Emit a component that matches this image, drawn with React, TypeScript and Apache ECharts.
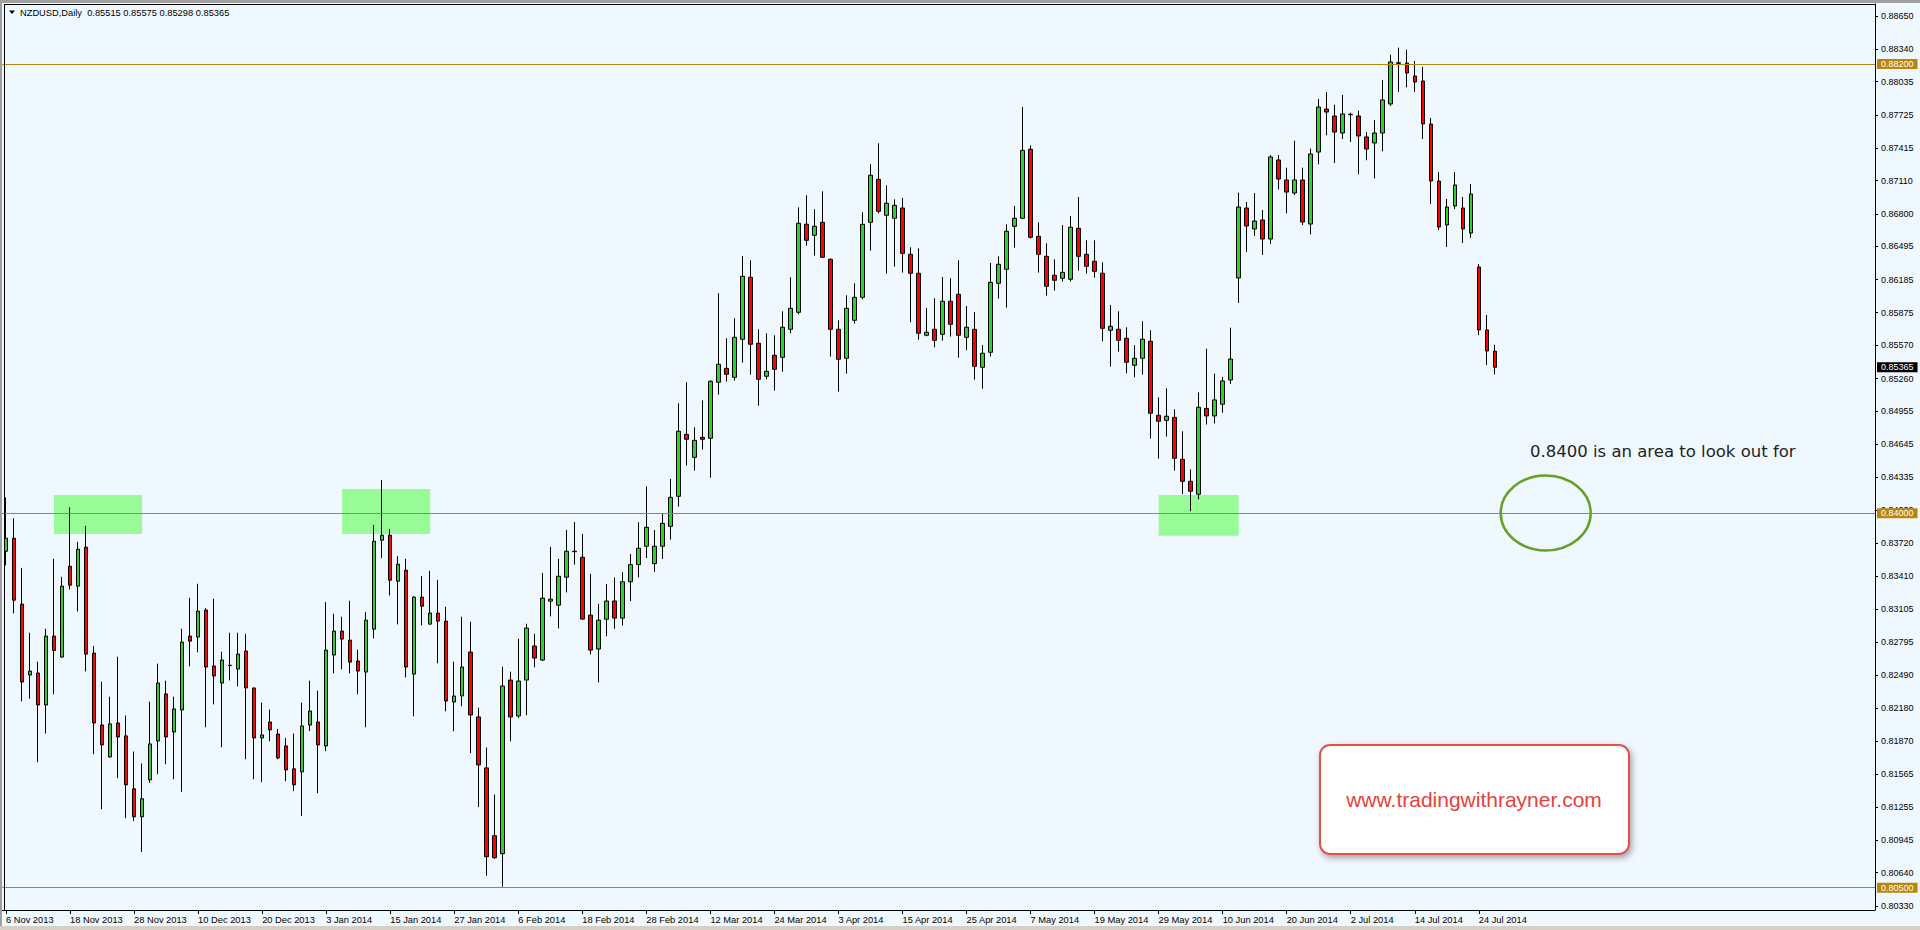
import React, { useEffect, useRef } from 'react';
import * as echarts from 'echarts';

const SYMBOL = 'NZDUSD,Daily';
const TICK_LABELS = [
  '6 Nov 2013', '18 Nov 2013', '28 Nov 2013', '10 Dec 2013', '20 Dec 2013', '3 Jan 2014',
  '15 Jan 2014', '27 Jan 2014', '6 Feb 2014', '18 Feb 2014', '28 Feb 2014', '12 Mar 2014',
  '24 Mar 2014', '3 Apr 2014', '15 Apr 2014', '25 Apr 2014', '7 May 2014', '19 May 2014',
  '29 May 2014', '10 Jun 2014', '20 Jun 2014', '2 Jul 2014', '14 Jul 2014', '24 Jul 2014',
];
const LABEL_STEP = 8;
const SLOT_COUNT = 234;

const OPEN = [
  0.83645, 0.83767, 0.83151, 0.82488, 0.82507, 0.82208, 0.82852, 0.82656, 0.83505, 0.83319,
  0.83683, 0.82693, 0.82021, 0.81723, 0.82040, 0.81919, 0.81424, 0.81163, 0.81508, 0.81872,
  0.82311, 0.81956, 0.82161, 0.82852, 0.82843, 0.83095, 0.82572, 0.82413, 0.82580, 0.82544,
  0.82712, 0.82367, 0.81900, 0.82049, 0.81937, 0.81825, 0.81611, 0.81583, 0.82021, 0.82049,
  0.81825, 0.82675, 0.82899, 0.82815, 0.82619, 0.82516, 0.82917, 0.83748, 0.83795, 0.83365,
  0.83468, 0.82497, 0.83216, 0.82964, 0.83067, 0.82992, 0.82236, 0.82292, 0.82703, 0.82096,
  0.81620, 0.80986, 0.80818, 0.82441, 0.82105, 0.82441, 0.82759, 0.82628, 0.83179, 0.83141,
  0.83403, 0.83640, 0.83589, 0.83048, 0.82731, 0.83010, 0.83180, 0.83020, 0.83360, 0.83520,
  0.83692, 0.83530, 0.83692, 0.83878, 0.84159, 0.84738, 0.84523, 0.84710, 0.84701, 0.85225,
  0.85355, 0.85271, 0.85627, 0.86206, 0.85589, 0.85281, 0.85477, 0.85458, 0.85720, 0.85879,
  0.86702, 0.86599, 0.86720, 0.86374, 0.85720, 0.85449, 0.85804, 0.86019, 0.86720, 0.87122,
  0.86786, 0.86758, 0.86854, 0.86421, 0.86244, 0.85664, 0.85720, 0.85673, 0.85982, 0.86047,
  0.85645, 0.85720, 0.85365, 0.85505, 0.86150, 0.86281, 0.86683, 0.86758, 0.87403, 0.86589,
  0.86402, 0.86225, 0.86197, 0.86188, 0.86664, 0.86421, 0.86356, 0.86244, 0.85711, 0.85720,
  0.85636, 0.85384, 0.85449, 0.85608, 0.84916, 0.84869, 0.84897, 0.84505, 0.84299, 0.84178,
  0.84980, 0.84910, 0.85020, 0.85246, 0.86200, 0.86854, 0.86658, 0.86742, 0.86564, 0.87303,
  0.87116, 0.86994, 0.87116, 0.86704, 0.87377, 0.87779, 0.87714, 0.87555, 0.87726, 0.87714,
  0.87518, 0.87462, 0.87555, 0.87826, 0.88212, 0.88209, 0.88088, 0.88041, 0.87639, 0.87106,
  0.86695, 0.86873, 0.86854, 0.86620, 0.86302, 0.85714, 0.85515,
];
const HIGH = [
  0.84149, 0.83953, 0.83490, 0.82883, 0.82613, 0.82921, 0.83574, 0.83406, 0.84056, 0.83733,
  0.83882, 0.82759, 0.82426, 0.82286, 0.82659, 0.82109, 0.81773, 0.81661, 0.82239, 0.82594,
  0.82435, 0.82286, 0.82921, 0.83210, 0.83341, 0.83113, 0.83201, 0.82706, 0.82883, 0.82883,
  0.82874, 0.82370, 0.82230, 0.82165, 0.81984, 0.81900, 0.81941, 0.82230, 0.82435, 0.82342,
  0.83169, 0.83061, 0.83033, 0.83182, 0.82725, 0.83076, 0.83891, 0.84311, 0.83854, 0.83599,
  0.83574, 0.83225, 0.83415, 0.83462, 0.83378, 0.83126, 0.82613, 0.83033, 0.82986, 0.82183,
  0.81810, 0.81371, 0.82566, 0.82519, 0.82827, 0.82967, 0.82874, 0.83443, 0.83686, 0.83574,
  0.83845, 0.83919, 0.83807, 0.83434, 0.83154, 0.83340, 0.83400, 0.83450, 0.83620, 0.83916,
  0.84252, 0.83844, 0.83994, 0.84321, 0.85028, 0.85225, 0.84804, 0.85056, 0.85243, 0.86057,
  0.85636, 0.85823, 0.86406, 0.86365, 0.85720, 0.85683, 0.85664, 0.85888, 0.86206, 0.86860,
  0.86973, 0.86842, 0.87010, 0.86384, 0.85804, 0.86038, 0.86150, 0.86814, 0.87266, 0.87459,
  0.87066, 0.86935, 0.86948, 0.86487, 0.86477, 0.85920, 0.86010, 0.86209, 0.86197, 0.86365,
  0.85938, 0.85882, 0.85574, 0.86340, 0.86402, 0.86702, 0.86873, 0.87798, 0.87440, 0.86720,
  0.86524, 0.86374, 0.86695, 0.86780, 0.86957, 0.86552, 0.86552, 0.86346, 0.85948, 0.85888,
  0.85739, 0.85571, 0.85795, 0.85711, 0.85084, 0.85168, 0.84972, 0.84767, 0.84411, 0.85131,
  0.85539, 0.85305, 0.85274, 0.85735, 0.86997, 0.86910, 0.86994, 0.86835, 0.87349, 0.87349,
  0.87231, 0.87483, 0.87231, 0.87409, 0.87873, 0.87938, 0.87820, 0.87910, 0.87745, 0.87764,
  0.87564, 0.87677, 0.88050, 0.88287, 0.88353, 0.88334, 0.88228, 0.88172, 0.87695, 0.87190,
  0.86938, 0.87190, 0.86957, 0.87078, 0.86330, 0.85854, 0.85575,
];
const LOW = [
  0.83512, 0.83064, 0.82242, 0.82267, 0.81673, 0.81941, 0.82308, 0.82650, 0.83288, 0.83082,
  0.82522, 0.81748, 0.81234, 0.81715, 0.81524, 0.81150, 0.81122, 0.80833, 0.81480, 0.81561,
  0.81654, 0.81514, 0.81396, 0.82569, 0.82700, 0.82000, 0.82214, 0.81813, 0.82438, 0.82382,
  0.81701, 0.81514, 0.81486, 0.81869, 0.81701, 0.81496, 0.81402, 0.81169, 0.81965, 0.81384,
  0.81776, 0.82504, 0.82541, 0.82504, 0.82308, 0.82000, 0.82830, 0.83580, 0.83232, 0.82961,
  0.82466, 0.82102, 0.82952, 0.82960, 0.82597, 0.82149, 0.81962, 0.82196, 0.81757, 0.81253,
  0.80612, 0.80770, 0.80510, 0.81869, 0.82087, 0.82112, 0.82560, 0.82620, 0.83036, 0.82924,
  0.83260, 0.83521, 0.83005, 0.82681, 0.82420, 0.82850, 0.82920, 0.82950, 0.83180, 0.83400,
  0.83582, 0.83450, 0.83573, 0.83754, 0.84062, 0.84446, 0.84399, 0.84595, 0.84333, 0.85109,
  0.85231, 0.85240, 0.85408, 0.85296, 0.85006, 0.85253, 0.85147, 0.85324, 0.85683, 0.85860,
  0.86502, 0.86409, 0.86390, 0.85465, 0.85137, 0.85306, 0.85773, 0.86000, 0.86455, 0.86804,
  0.86240, 0.86306, 0.86250, 0.85786, 0.85623, 0.85655, 0.85552, 0.85614, 0.85652, 0.85455,
  0.85524, 0.85250, 0.85165, 0.85465, 0.86007, 0.85923, 0.86484, 0.86750, 0.86568, 0.86250,
  0.86035, 0.86082, 0.86166, 0.86166, 0.86268, 0.86240, 0.86203, 0.85608, 0.85371, 0.85511,
  0.85309, 0.85271, 0.85296, 0.84698, 0.84511, 0.84717, 0.84399, 0.84178, 0.84019, 0.84130,
  0.84830, 0.84840, 0.84940, 0.85209, 0.85966, 0.86443, 0.86592, 0.86415, 0.86517, 0.87028,
  0.86804, 0.86975, 0.86695, 0.86608, 0.87262, 0.87533, 0.87275, 0.87499, 0.87471, 0.87169,
  0.87300, 0.87131, 0.87384, 0.87807, 0.87938, 0.87982, 0.87938, 0.87499, 0.86891, 0.86648,
  0.86489, 0.86845, 0.86527, 0.86574, 0.85667, 0.85386, 0.85298,
];
const CLOSE = [
  0.83767, 0.83188, 0.82423, 0.82525, 0.82208, 0.82852, 0.82718, 0.83319, 0.83328, 0.83664,
  0.82684, 0.82040, 0.81835, 0.82031, 0.81909, 0.81462, 0.81163, 0.81331, 0.81844, 0.82413,
  0.81909, 0.82171, 0.82796, 0.82805, 0.83085, 0.82563, 0.82479, 0.82628, 0.82576, 0.82684,
  0.82367, 0.81900, 0.81928, 0.81975, 0.81713, 0.81601, 0.81462, 0.82012, 0.82152, 0.81835,
  0.82721, 0.82899, 0.82824, 0.82609, 0.82525, 0.83001, 0.83739, 0.83795, 0.83375, 0.83524,
  0.82563, 0.83216, 0.83132, 0.83067, 0.82992, 0.82245, 0.82292, 0.82563, 0.82115, 0.81648,
  0.80790, 0.80780, 0.82385, 0.82096, 0.82432, 0.82927, 0.82647, 0.83207, 0.83197, 0.83412,
  0.83645, 0.83645, 0.83011, 0.82721, 0.83001, 0.83180, 0.83020, 0.83360, 0.83520, 0.83673,
  0.83869, 0.83692, 0.83906, 0.84149, 0.84767, 0.84692, 0.84682, 0.84692, 0.85234, 0.85393,
  0.85299, 0.85645, 0.86215, 0.85580, 0.85253, 0.85327, 0.85346, 0.85739, 0.85916, 0.86711,
  0.86552, 0.86683, 0.86393, 0.85720, 0.85440, 0.85916, 0.86019, 0.86702, 0.87160, 0.86823,
  0.86898, 0.86879, 0.86430, 0.86244, 0.85683, 0.85692, 0.85617, 0.85982, 0.85767, 0.85664,
  0.85739, 0.85374, 0.85496, 0.86159, 0.86328, 0.86636, 0.86758, 0.87393, 0.86580, 0.86421,
  0.86122, 0.86178, 0.86253, 0.86674, 0.86402, 0.86309, 0.86262, 0.85729, 0.85748, 0.85617,
  0.85412, 0.85449, 0.85627, 0.84935, 0.84860, 0.84907, 0.84514, 0.84299, 0.84206, 0.84991,
  0.84910, 0.85060, 0.85237, 0.85442, 0.86863, 0.86686, 0.86732, 0.86564, 0.87331, 0.87125,
  0.87003, 0.87116, 0.86723, 0.87359, 0.87798, 0.87751, 0.87564, 0.87733, 0.87730, 0.87527,
  0.87405, 0.87555, 0.87864, 0.88219, 0.88206, 0.88116, 0.88032, 0.87639, 0.87106, 0.86676,
  0.86863, 0.87069, 0.86658, 0.86985, 0.85714, 0.85517, 0.85365,
];

const PRICE_TICKS = [
  0.8865, 0.8834, 0.88035, 0.87725, 0.87415, 0.8711, 0.868, 0.86495, 0.86185, 0.85875,
  0.8557, 0.8526, 0.84955, 0.84645, 0.84335, 0.8403, 0.8372, 0.8341, 0.83105, 0.82795,
  0.8249, 0.8218, 0.8187, 0.81565, 0.81255, 0.80945, 0.8064, 0.8033,
];
const Y_MIN = 0.802915;
const Y_MAX = 0.887609;
const LEVELS = [0.882, 0.84, 0.805];
const ZONE_START = [6, 42, 144];
const ZONE_END = [17, 53, 154];
const ZONE_TOP = [0.84171, 0.84227, 0.84171];
const ZONE_BOTTOM = [0.83806, 0.83806, 0.8379];
const NOTE_TEXT = '0.8400 is an area to look out for';
const SITE_TEXT = 'www.tradingwithrayner.com';

const FONT = "'Liberation Sans', Arial, sans-serif";
const LEVEL_COLOR = '#B8860B';

export default function App() {
  const ref = useRef<HTMLDivElement>(null);

  useEffect(() => {
    if (!ref.current) return;
    const chart = echarts.init(ref.current, undefined, { renderer: 'svg' });

    const n = OPEN.length;
    const lastPrice = CLOSE[n - 1];
    const header =
      SYMBOL + '  ' + [OPEN[n - 1], HIGH[n - 1], LOW[n - 1], CLOSE[n - 1]].map((v) => v.toFixed(5)).join(' ');

    const categories = Array.from({ length: SLOT_COUNT }, (_, i) => String(i));
    const candleData = OPEN.map((o, i) => [o, CLOSE[i], LOW[i], HIGH[i]]);
    const showTick = (i: number) => i % LABEL_STEP === 0 && i / LABEL_STEP < TICK_LABELS.length;

    const zones = ZONE_START.map((s, k) => [
      { xAxis: String(s), yAxis: ZONE_TOP[k] },
      { xAxis: String(ZONE_END[k]), yAxis: ZONE_BOTTOM[k] },
    ]);

    const option: any = {
      animation: false,
      backgroundColor: '#F0F8FF',
      grid: { left: 2, right: 45, top: 4, bottom: 20, show: false },
      xAxis: {
        type: 'category',
        data: categories,
        boundaryGap: true,
        axisLine: { show: true, lineStyle: { color: '#000', width: 1 } },
        axisTick: {
          show: true,
          alignWithLabel: true,
          interval: (i: number) => showTick(i),
          length: 4,
          lineStyle: { color: '#000' },
        },
        axisLabel: {
          interval: (i: number) => showTick(i),
          formatter: (v: string) => {
            const i = Number(v);
            return i % LABEL_STEP === 0 ? TICK_LABELS[i / LABEL_STEP] ?? '' : '';
          },
          align: 'left',
          margin: 5,
          fontSize: 9.3,
          color: '#000',
          fontFamily: FONT,
        },
        splitLine: { show: false },
      },
      yAxis: {
        type: 'value',
        position: 'right',
        min: Y_MIN,
        max: Y_MAX,
        axisLine: { show: true, lineStyle: { color: '#000', width: 1 } },
        axisTick: { show: true, length: 3, customValues: PRICE_TICKS, lineStyle: { color: '#000' } },
        axisLabel: {
          customValues: PRICE_TICKS,
          formatter: (v: number) => Number(v).toFixed(5),
          fontSize: 9,
          color: '#000',
          margin: 6,
          fontFamily: FONT,
        },
        splitLine: { show: false },
      },
      series: [
        {
          type: 'line',
          name: 'zones',
          data: [],
          z: 1,
          silent: true,
          markArea: {
            silent: true,
            itemStyle: { color: '#98FB98', opacity: 1 },
            data: zones,
          },
        },
        {
          type: 'candlestick',
          name: 'NZDUSD',
          z: 2,
          data: candleData,
          barWidth: 4,
          itemStyle: {
            color: '#32CD32',
            color0: '#FF0000',
            borderColor: '#000',
            borderColor0: '#000',
            borderColorDoji: '#000',
            borderWidth: 1,
          },
          markLine: {
            silent: true,
            precision: 5,
            symbol: ['none', 'none'],
            lineStyle: { color: LEVEL_COLOR, width: 1, type: 'solid' },
            label: {
              show: true,
              position: 'end',
              distance: 2,
              formatter: (p: any) => Number(p.value).toFixed(5),
              color: '#fff',
              backgroundColor: LEVEL_COLOR,
              padding: [1, 4, 0, 4],
              fontSize: 9,
              fontFamily: FONT,
            },
            data: [
              ...LEVELS.map((v) => ({ yAxis: v })),
              {
                yAxis: lastPrice,
                lineStyle: { color: 'rgba(0,0,0,0)', width: 0 },
                label: { backgroundColor: '#000', color: '#fff' },
              },
            ],
          },
        },
      ],
      graphic: [
        { type: 'rect', silent: true, z: 100, shape: { x: 0, y: 0, width: 1920, height: 3 }, style: { fill: '#A0A0A0' } },
        { type: 'rect', silent: true, z: 100, shape: { x: 0, y: 0, width: 2, height: 930 }, style: { fill: '#A0A0A0' } },
        { type: 'rect', silent: true, z: 100, shape: { x: 0, y: 926, width: 1920, height: 4 }, style: { fill: '#D4D0C8' } },
        { type: 'line', silent: true, z: 100, shape: { x1: 4, y1: 4.5, x2: 1875, y2: 4.5 }, style: { stroke: '#000', lineWidth: 1 } },
        { type: 'line', silent: true, z: 100, shape: { x1: 4.5, y1: 4, x2: 4.5, y2: 910 }, style: { stroke: '#000', lineWidth: 1 } },
        { type: 'polygon', silent: true, z: 100, shape: { points: [[9, 10.5], [15, 10.5], [12, 14]] }, style: { fill: '#000' } },
        {
          type: 'text', silent: true, z: 100, x: 20, y: 13,
          style: { text: header, fill: '#000', fontSize: 9.3, fontFamily: FONT, textVerticalAlign: 'middle', verticalAlign: 'middle' },
        },
        {
          type: 'ellipse', silent: true, z: 100,
          shape: { cx: 1545.7, cy: 513, rx: 45, ry: 37.5 },
          style: { fill: 'transparent', stroke: '#66A024', lineWidth: 2.5 },
        },
        {
          type: 'text', silent: true, z: 100, x: 1530, y: 451,
          style: {
            text: NOTE_TEXT, fill: '#222', fontSize: 16.5,
            fontFamily: "'DejaVu Sans', Verdana, sans-serif",
            textVerticalAlign: 'middle', verticalAlign: 'middle',
          },
        },
        {
          type: 'rect', silent: true, z: 100,
          shape: { x: 1320, y: 745, width: 309, height: 109, r: 10 },
          style: {
            fill: '#fff', stroke: '#E8504A', lineWidth: 2,
            shadowBlur: 6, shadowOffsetX: 2, shadowOffsetY: 3, shadowColor: 'rgba(0,0,0,0.35)',
          },
        },
        {
          type: 'text', silent: true, z: 101, x: 1474, y: 799,
          style: {
            text: SITE_TEXT, fill: '#E8413C', fontSize: 21, fontFamily: FONT,
            textAlign: 'center', align: 'center', textVerticalAlign: 'middle', verticalAlign: 'middle',
          },
        },
      ],
    };

    chart.setOption(option);
    return () => {
      chart.dispose();
    };
  }, []);

  return (
    <div
      ref={ref}
      style={{ position: 'fixed', left: 0, top: 0, width: 1920, height: 930, background: '#F0F8FF' }}
    />
  );
}
